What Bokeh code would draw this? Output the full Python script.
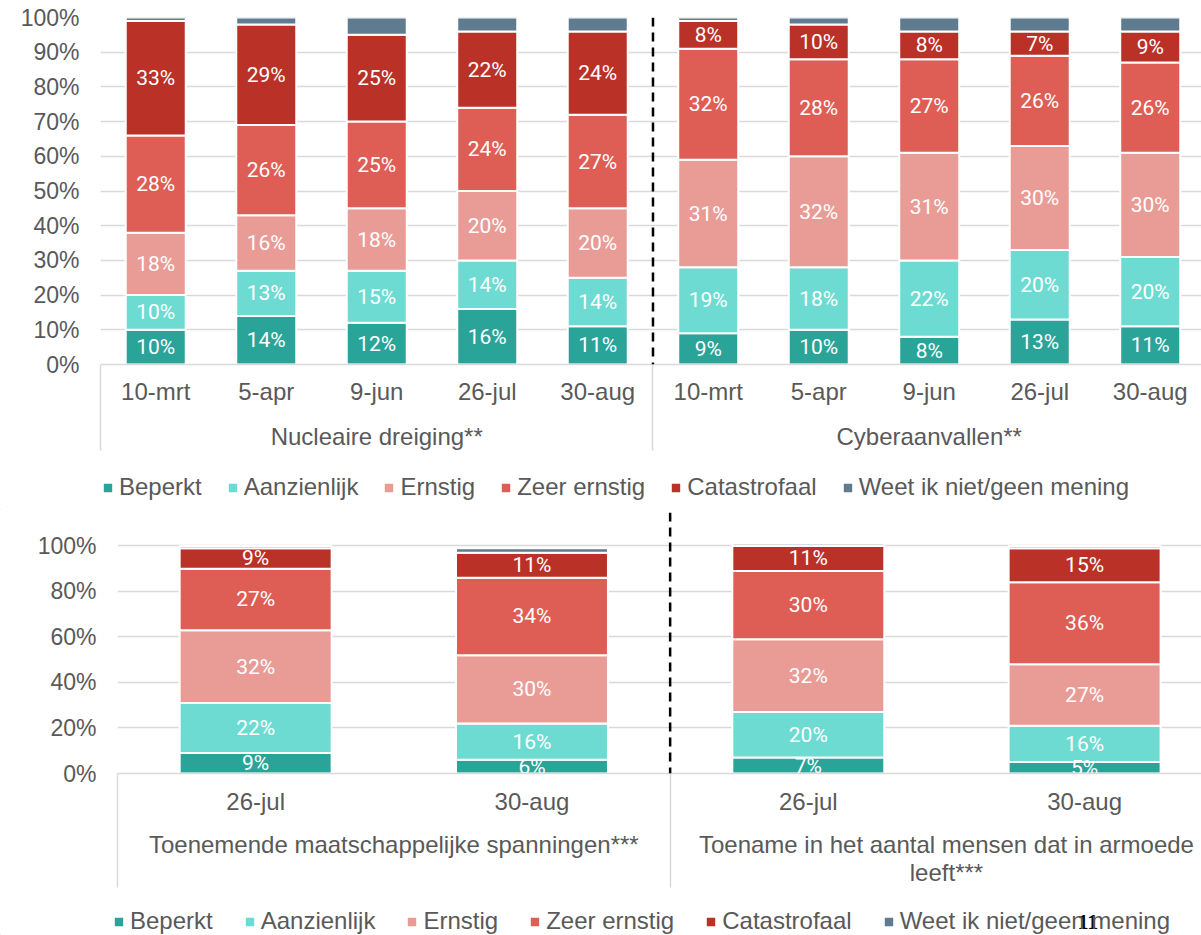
from bokeh.plotting import figure
from bokeh.models import (Range1d, FixedTicker, LinearAxis, PrintfTickFormatter, ColumnDataSource,
                          Legend, LegendItem, Span, Label)
from bokeh.embed import file_html
from bokeh.resources import INLINE
from bokeh.core.properties import value

LEVELS = ["Beperkt", "Aanzienlijk", "Ernstig", "Zeer ernstig", "Catastrofaal", "Weet ik niet/geen mening"]
COLORS = ["#2AA499", "#6EDBD2", "#E99C96", "#DE5E55", "#BA3127", "#5F7B8F"]

TOP_GROUPS = ["Nucleaire dreiging**", "Cyberaanvallen**"]
TOP_DATES = ["10-mrt", "5-apr", "9-jun", "26-jul", "30-aug"]
top_beperkt = [10, 14, 12, 16, 11, 9, 10, 8, 13, 11]
top_aanzienlijk = [10, 13, 15, 14, 14, 19, 18, 22, 20, 20]
top_ernstig = [18, 16, 18, 20, 20, 31, 32, 31, 30, 30]
top_zeer_ernstig = [28, 26, 25, 24, 27, 32, 28, 27, 26, 26]
top_catastrofaal = [33, 29, 25, 22, 24, 8, 10, 8, 7, 9]
top_weet_niet = [1, 2, 5, 4, 4, 1, 2, 4, 4, 4]

BOTTOM_GROUPS = ["Toenemende maatschappelijke spanningen***",
                 "Toename in het aantal mensen dat in armoede\nleeft***"]
BOTTOM_DATES = ["26-jul", "30-aug"]
bottom_beperkt = [9, 6, 7, 5]
bottom_aanzienlijk = [22, 16, 20, 16]
bottom_ernstig = [32, 30, 32, 27]
bottom_zeer_ernstig = [27, 34, 30, 36]
bottom_catastrofaal = [9, 11, 11, 15]
bottom_weet_niet = [1, 2, 1, 1]

TOP_Y_TICKS = list(range(0, 101, 10))
BOTTOM_Y_TICKS = list(range(0, 101, 20))
PAGE_NUMBER = "11"

TEXT = "#595959"
GRID = "#D9D9D9"
AXIS_FONT = "Liberation Sans"
PAGE_W = 1201


def make_chart(groups, dates, series, *, height, border_left, border_top, border_bottom,
               x_end, y_end, y_ticks, bar_width, sep_len, date_standoff, group_standoff):
    n_dates = len(dates)
    labels = [d for g in groups for d in dates]
    xs = [i + 0.5 for i in range(len(labels))]
    keys = ["s%d" % k for k in range(len(series))]
    data = {"x": xs}
    for k, s in zip(keys, series):
        data[k] = s
    src = ColumnDataSource(data)

    p = figure(width=PAGE_W, height=height, x_range=Range1d(0, x_end), y_range=Range1d(0, y_end),
               output_backend="svg", toolbar_location=None,
               min_border_left=border_left, min_border_right=0,
               min_border_top=border_top, min_border_bottom=border_bottom)
    p.outline_line_color = None
    p.border_fill_color = "white"
    p.background_fill_color = "white"

    p.vbar_stack(keys, x="x", width=bar_width, source=src, fill_color=COLORS,
                 line_color="white", line_width=2)

    lx, ly, lt = [], [], []
    for i, x in enumerate(xs):
        base = 0
        for s in series[:5]:
            v = s[i]
            lx.append(x)
            ly.append(base + v / 2)
            lt.append("%d%%" % v)
            base += v
    p.text(x=lx, y=ly, text=lt, text_color="white", text_font=value("Roboto"),
           text_font_size="21px", text_align="center", text_baseline="middle")

    # date axis; group separators drawn as long minor ticks
    xa = p.xaxis[0]
    xa.ticker = FixedTicker(ticks=xs, minor_ticks=[g * n_dates for g in range(len(groups) + 1)])
    xa.major_label_overrides = {x: l for x, l in zip(xs, labels)}
    xa.axis_line_color = GRID
    xa.axis_line_width = 1.5
    xa.major_tick_line_color = None
    xa.major_tick_in = 0
    xa.major_tick_out = 0
    xa.minor_tick_in = 0
    xa.minor_tick_out = sep_len
    xa.minor_tick_line_color = GRID
    xa.minor_tick_line_width = 1.5
    xa.major_label_standoff = date_standoff - sep_len
    xa.major_label_text_font = AXIS_FONT
    xa.major_label_text_font_size = "24px"
    xa.major_label_text_color = TEXT
    p.xgrid.visible = False

    # group axis
    gxs = [g * n_dates + n_dates / 2 for g in range(len(groups))]
    ga = LinearAxis(ticker=FixedTicker(ticks=gxs, minor_ticks=[]),
                    major_label_overrides={x: g for x, g in zip(gxs, groups)},
                    axis_line_color=None, major_tick_line_color=None, minor_tick_line_color=None,
                    major_tick_in=0, major_tick_out=0, minor_tick_in=0, minor_tick_out=0,
                    major_label_standoff=group_standoff, major_label_text_font=AXIS_FONT,
                    major_label_text_font_size="24px", major_label_text_color=TEXT,
                    major_label_text_line_height=1.05)
    p.add_layout(ga, "below")

    ya = p.yaxis[0]
    ya.ticker = FixedTicker(ticks=y_ticks)
    ya.formatter = PrintfTickFormatter(format="%d%%")
    ya.axis_line_color = None
    ya.major_tick_line_color = None
    ya.minor_tick_line_color = None
    ya.major_tick_out = 0
    ya.major_tick_in = 0
    ya.major_label_standoff = 21
    ya.major_label_text_font = AXIS_FONT
    ya.major_label_text_font_size = "23px"
    ya.major_label_text_color = TEXT
    p.ygrid.grid_line_color = GRID
    p.ygrid.grid_line_width = 1.5

    for g in range(1, len(groups)):
        p.add_layout(Span(location=g * n_dates, dimension="height", line_color="black",
                          line_dash="9 6", line_width=2.5))
    return p


def make_legend(height, loc, spacing, page_number=None, page_number_xy=None):
    p = figure(width=PAGE_W, height=height, x_range=Range1d(0, PAGE_W), y_range=Range1d(0, height),
               output_backend="svg", toolbar_location=None, x_axis_location=None,
               y_axis_location=None, min_border=0)
    p.outline_line_color = None
    p.grid.visible = False
    # swatches only: one point placed outside the visible range so just the legend shows it
    rs = [p.vbar(x=[-10], top=[1], width=1, fill_color=c, line_color="white", line_width=2)
          for c in COLORS]
    leg = Legend(items=[LegendItem(label=l, renderers=[r]) for l, r in zip(LEVELS, rs)],
                 orientation="horizontal", location=loc, spacing=spacing,
                 glyph_width=13, glyph_height=13, label_standoff=5, padding=0, margin=0,
                 border_line_color=None, background_fill_alpha=0,
                 label_text_font=AXIS_FONT, label_text_font_size="24px", label_text_color=TEXT)
    p.add_layout(leg, "center")
    if page_number:
        p.add_layout(Label(x=page_number_xy[0], y=page_number_xy[1], text=page_number,
                           text_font="Liberation Serif", text_font_style="bold",
                           text_font_size="22px", text_color="black", text_baseline="middle",
                           background_fill_color="white"))
    return p


p1 = make_chart(TOP_GROUPS, TOP_DATES,
                [top_beperkt, top_aanzienlijk, top_ernstig, top_zeer_ernstig, top_catastrofaal, top_weet_niet],
                height=465, border_left=100, border_top=17, border_bottom=101,
                x_end=9.964, y_end=100, y_ticks=TOP_Y_TICKS, bar_width=0.543, sep_len=86,
                date_standoff=13, group_standoff=15)
l1 = make_legend(45, (101, 9), 24)

p2 = make_chart(BOTTOM_GROUPS, BOTTOM_DATES,
                [bottom_beperkt, bottom_aanzienlijk, bottom_ernstig, bottom_zeer_ernstig,
                 bottom_catastrofaal, bottom_weet_niet],
                height=383, border_left=117, border_top=2, border_bottom=120,
                x_end=3.923, y_end=114.7, y_ticks=BOTTOM_Y_TICKS, bar_width=0.55, sep_len=114,
                date_standoff=14, group_standoff=13)
l2 = make_legend(42, (112, 0), 30, PAGE_NUMBER, (1077, 14))

open("out.html", "w").write(file_html([p1, l1, p2, l2], INLINE))
